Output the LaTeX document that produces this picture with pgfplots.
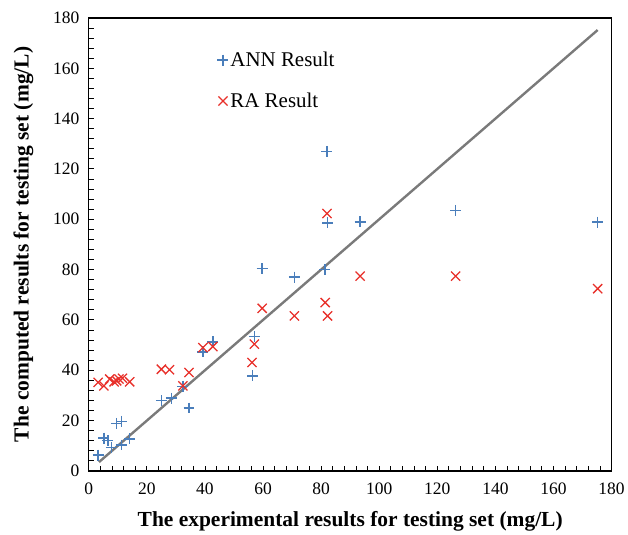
\documentclass[border=0pt]{standalone}
\usepackage{pgfplots}
\pgfplotsset{compat=1.18}
\usepackage{fontspec}
\setmainfont{Liberation Serif}
\definecolor{annblue}{HTML}{4A7EBB}
\definecolor{rared}{HTML}{E8302A}
\definecolor{linegray}{HTML}{7A7A7A}
\begin{document}
\begin{tikzpicture}
\begin{axis}[
  scale only axis,
  width=524bp, height=454bp,
  xmin=0, xmax=180, ymin=0, ymax=180,
  xtick={0,20,...,180}, ytick={0,20,...,180},
  minor tick num=4,
  tick pos=left,
  tick align=inside,
  major tick length=5bp, minor tick length=5bp,
  every tick/.style={black, line width=0.9bp},
  axis line style={black, line width=1.2bp},
  /pgf/number format/assume math mode=true,
  ticklabel style={font=\rmfamily\fontsize{17.5bp}{20bp}\selectfont},
  xticklabel style={yshift=-8bp},
  yticklabel style={xshift=-6bp},
  xlabel={\textbf{The experimental results for testing set (mg/L)}},
  ylabel={\textbf{The computed results for testing set (mg/L)}},
  label style={font=\rmfamily\fontsize{21.5bp}{24bp}\selectfont},
  xlabel style={yshift=-10bp},
  ylabel style={yshift=13bp},
  legend style={draw=none, fill=none, at={(0.240,0.934)}, anchor=north west,
    font=\rmfamily\fontsize{21bp}{24bp}\selectfont, row sep=21bp},
  legend cell align=left,
  legend image code/.code={\draw[mark repeat=2,mark phase=2,#1] plot coordinates {(0bp,0bp)(5bp,0bp)(10bp,0bp)};},
]
\addplot[only marks, mark=+, mark size=5.5bp, color=annblue, line width=1.5bp] coordinates {
(3.2,6.3) (5.2,13.0) (6.6,12.0) (7.8,9.4) (9.5,18.9) (11.2,19.7) (11.2,10.3) (14.1,12.7)
(25.0,27.9) (28.4,28.9) (32.4,33.6) (34.5,25.0) (39.3,47.3) (42.7,51.3) (56.4,37.8) (57.0,53.4)
(59.7,80.4) (70.8,77.0) (81.3,80.1) (82.0,127.0) (82.2,98.6) (93.4,99.0) (126.3,103.5) (175.2,98.9)
};
\addlegendentry{ANN Result}
\addplot[only marks, mark=x, mark size=6.5bp, color=rared, line width=1.3bp] coordinates {
(3.2,35.2) (5.2,33.8) (7.2,36.5) (8.7,35.4) (9.6,35.8) (10.4,36.5) (11.6,36.8) (14.1,35.4)
(25.0,40.4) (27.8,40.2) (32.4,33.8) (34.5,39.1) (39.3,49.0) (42.7,49.4) (57.0,50.4) (56.2,43.1)
(59.7,64.6) (70.8,61.6) (81.4,66.9) (82.2,61.6) (82.0,102.3) (93.4,77.4) (126.3,77.4) (175.2,72.4)
};
\addlegendentry{RA Result}
\addplot[linegray, line width=2.4bp, forget plot] coordinates {(3.5,3.5) (175.2,175.2)};
\end{axis}
\path (current axis.south west) ++(-89bp,-64bp) rectangle ++(628bp,536bp);
\end{tikzpicture}
\end{document}
